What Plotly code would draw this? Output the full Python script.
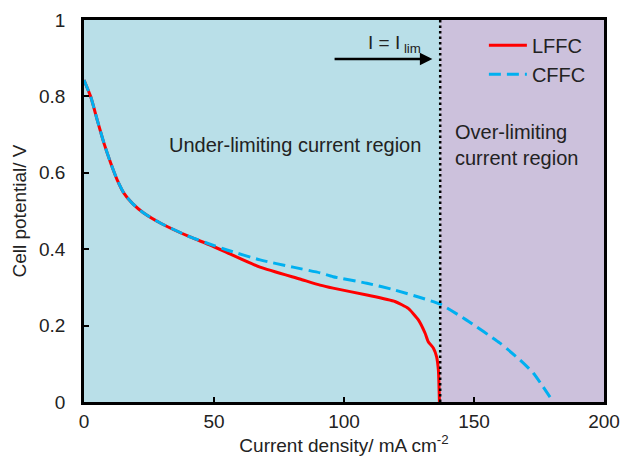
import plotly.graph_objects as go

lffc_x = [0, 2.6, 5.1, 7.7, 10.3, 12.8, 15.4, 18.6, 23.1, 29.5, 40.8, 48.5, 67.7, 83, 90.8, 95.8, 108.8,
          119.6, 124.7, 128.6, 131.2, 132.4, 134.4, 135.6, 136.3, 136.7]
lffc_y = [0.843, 0.799, 0.738, 0.677, 0.625, 0.581, 0.546, 0.520, 0.494, 0.468, 0.432, 0.411, 0.353, 0.322, 0.306, 0.298, 0.28,
          0.263, 0.245, 0.215, 0.18, 0.158, 0.141, 0.119, 0.084, 0.0]

cffc_x = [0, 2.6, 5.1, 7.7, 10.3, 12.8, 15.4, 18.6, 23.1, 29.5, 40.8, 48.5, 55, 67.7, 80.4, 90.8, 95.8, 108.8,
          119.6, 137, 147, 160, 167.7, 172.8, 180.5]
cffc_y = [0.843, 0.799, 0.738, 0.677, 0.625, 0.581, 0.546, 0.520, 0.494, 0.468, 0.432, 0.413, 0.398, 0.372, 0.353, 0.338, 0.328, 0.311,
          0.293, 0.256, 0.215, 0.154, 0.11, 0.076, 0.0]

i_lim = 137
x_ticks = [0, 50, 100, 150, 200]
y_ticks = [0, 0.2, 0.4, 0.6, 0.8, 1]

FONT = "Liberation Sans, Arial, sans-serif"
TXT = "#222222"

fig = go.Figure()
fig.add_trace(go.Scatter(x=lffc_x, y=lffc_y, mode="lines", name="LFFC",
                         line=dict(color="#ff0000", width=3, shape="spline", smoothing=0.5)))
fig.add_trace(go.Scatter(x=cffc_x, y=cffc_y, mode="lines", name="CFFC",
                         line=dict(color="#00b0f0", width=3, dash="12px,6px", shape="spline", smoothing=0.5)))

fig.add_shape(type="rect", x0=0, x1=i_lim, y0=0, y1=1, xref="x", yref="y",
              fillcolor="#b9dfe8", line_width=0, layer="below")
fig.add_shape(type="rect", x0=i_lim, x1=200, y0=0, y1=1, xref="x", yref="y",
              fillcolor="#ccc1dc", line_width=0, layer="below")
fig.add_shape(type="line", x0=i_lim, x1=i_lim, y0=0, y1=1, xref="x", yref="y",
              line=dict(color="black", width=2.5, dash="2.5px,3px"), layer="above")

fig.add_annotation(x=134, y=0.898, ax=95.8, ay=0.898, xref="x", yref="y", axref="x", ayref="y",
                   showarrow=True, arrowhead=2, arrowsize=1, arrowwidth=2.5, arrowcolor="black", text="")
fig.add_annotation(x=119.6, y=0.936, xref="x", yref="y", showarrow=False,
                   text="I = I<sub> lim</sub>", font=dict(family=FONT, size=19, color=TXT))
fig.add_annotation(x=81, y=0.673, xref="x", yref="y", showarrow=False,
                   text="Under-limiting current region", font=dict(family=FONT, size=20, color=TXT))
fig.add_annotation(x=142, y=0.673, xref="x", yref="y", showarrow=False, xanchor="left", align="left",
                   text="Over-limiting<br>current region", font=dict(family=FONT, size=20, color=TXT))

fig.update_layout(
    width=623, height=457,
    margin=dict(l=84, r=19, t=20, b=55),
    paper_bgcolor="white", plot_bgcolor="white",
    font=dict(family=FONT, size=19, color=TXT),
    showlegend=True,
    legend=dict(x=0.769, y=0.985, xanchor="left", yanchor="top", bgcolor="rgba(0,0,0,0)",
                font=dict(family=FONT, size=20, color=TXT), tracegroupgap=0, itemwidth=38),
    xaxis=dict(range=[0, 200], tickvals=x_ticks, ticks="inside", ticklen=5, tickwidth=2,
               tickcolor="black", showgrid=False, zeroline=False, showline=True, linecolor="black",
               linewidth=2.5, mirror=True, ticklabelstandoff=0, automargin=False,
               tickfont=dict(family=FONT, size=19, color=TXT),
               title=dict(text="Current density/ mA cm<sup>-2</sup>", standoff=2,
                          font=dict(family=FONT, size=19, color=TXT))),
    yaxis=dict(range=[0, 1], tickvals=y_ticks, ticks="inside", ticklen=5, tickwidth=2,
               tickcolor="black", showgrid=False, zeroline=False, showline=True, linecolor="black",
               linewidth=2.5, mirror=True, ticklabelstandoff=12, automargin=False,
               tickfont=dict(family=FONT, size=19, color=TXT),
               title=dict(text="Cell potential/ V", standoff=8,
                          font=dict(family=FONT, size=19, color=TXT))),
)

fig.write_html("out.html", config={"displayModeBar": False},
               post_script="document.body.style.margin='0';document.body.style.overflow='hidden';")
